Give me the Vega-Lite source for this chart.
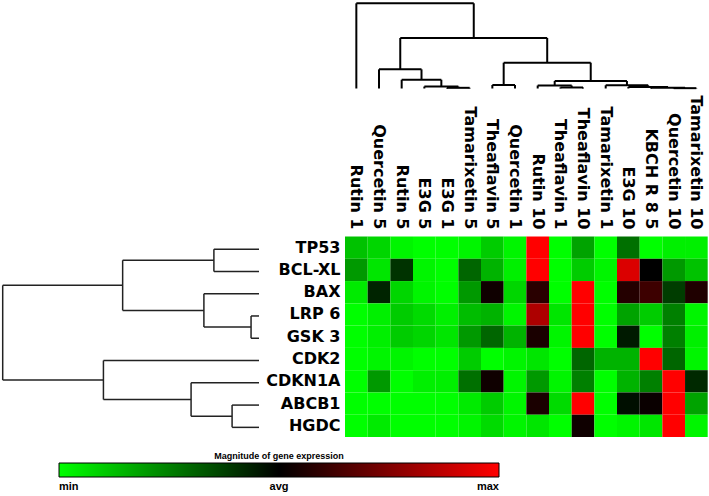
{
  "$schema": "https://vega.github.io/schema/vega-lite/v6.json",
  "width": 709,
  "height": 496,
  "padding": 0,
  "autosize": "none",
  "background": "white",
  "config": {"view": {"stroke": null}},
  "datasets": {
    "heat": [
      {"gene":"TP53","sample":"Rutin 1","value":0.12},{"gene":"TP53","sample":"Quercetin 5","value":0.08},{"gene":"TP53","sample":"Rutin 5","value":0.02},{"gene":"TP53","sample":"E3G 5","value":0},{"gene":"TP53","sample":"E3G 1","value":0},{"gene":"TP53","sample":"Tamarixetin 5","value":0.02},{"gene":"TP53","sample":"Theaflavin 5","value":0.1},{"gene":"TP53","sample":"Quercetin 1","value":0.02},{"gene":"TP53","sample":"Rutin 10","value":1.0},{"gene":"TP53","sample":"Theaflavin 1","value":0},{"gene":"TP53","sample":"Theaflavin 10","value":0.18},{"gene":"TP53","sample":"Tamarixetin 1","value":0},{"gene":"TP53","sample":"E3G 10","value":0.28},{"gene":"TP53","sample":"KBCH R 8 5","value":0},{"gene":"TP53","sample":"Quercetin 10","value":0.03},{"gene":"TP53","sample":"Tamarixetin 10","value":0.03},
      {"gene":"BCL-XL","sample":"Rutin 1","value":0.2},{"gene":"BCL-XL","sample":"Quercetin 5","value":0.05},{"gene":"BCL-XL","sample":"Rutin 5","value":0.4},{"gene":"BCL-XL","sample":"E3G 5","value":0.02},{"gene":"BCL-XL","sample":"E3G 1","value":0},{"gene":"BCL-XL","sample":"Tamarixetin 5","value":0.3},{"gene":"BCL-XL","sample":"Theaflavin 5","value":0.15},{"gene":"BCL-XL","sample":"Quercetin 1","value":0.03},{"gene":"BCL-XL","sample":"Rutin 10","value":1.0},{"gene":"BCL-XL","sample":"Theaflavin 1","value":0},{"gene":"BCL-XL","sample":"Theaflavin 10","value":0.1},{"gene":"BCL-XL","sample":"Tamarixetin 1","value":0.02},{"gene":"BCL-XL","sample":"E3G 10","value":0.93},{"gene":"BCL-XL","sample":"KBCH R 8 5","value":0.5},{"gene":"BCL-XL","sample":"Quercetin 10","value":0.2},{"gene":"BCL-XL","sample":"Tamarixetin 10","value":0.12},
      {"gene":"BAX","sample":"Rutin 1","value":0.04},{"gene":"BAX","sample":"Quercetin 5","value":0.43},{"gene":"BAX","sample":"Rutin 5","value":0.08},{"gene":"BAX","sample":"E3G 5","value":0.02},{"gene":"BAX","sample":"E3G 1","value":0},{"gene":"BAX","sample":"Tamarixetin 5","value":0.2},{"gene":"BAX","sample":"Theaflavin 5","value":0.53},{"gene":"BAX","sample":"Quercetin 1","value":0.08},{"gene":"BAX","sample":"Rutin 10","value":0.58},{"gene":"BAX","sample":"Theaflavin 1","value":0},{"gene":"BAX","sample":"Theaflavin 10","value":1.0},{"gene":"BAX","sample":"Tamarixetin 1","value":0},{"gene":"BAX","sample":"E3G 10","value":0.57},{"gene":"BAX","sample":"KBCH R 8 5","value":0.62},{"gene":"BAX","sample":"Quercetin 10","value":0.38},{"gene":"BAX","sample":"Tamarixetin 10","value":0.56},
      {"gene":"LRP 6","sample":"Rutin 1","value":0},{"gene":"LRP 6","sample":"Quercetin 5","value":0.03},{"gene":"LRP 6","sample":"Rutin 5","value":0.1},{"gene":"LRP 6","sample":"E3G 5","value":0.07},{"gene":"LRP 6","sample":"E3G 1","value":0.03},{"gene":"LRP 6","sample":"Tamarixetin 5","value":0.13},{"gene":"LRP 6","sample":"Theaflavin 5","value":0.15},{"gene":"LRP 6","sample":"Quercetin 1","value":0.02},{"gene":"LRP 6","sample":"Rutin 10","value":0.84},{"gene":"LRP 6","sample":"Theaflavin 1","value":0.05},{"gene":"LRP 6","sample":"Theaflavin 10","value":1.0},{"gene":"LRP 6","sample":"Tamarixetin 1","value":0},{"gene":"LRP 6","sample":"E3G 10","value":0.18},{"gene":"LRP 6","sample":"KBCH R 8 5","value":0.1},{"gene":"LRP 6","sample":"Quercetin 10","value":0.25},{"gene":"LRP 6","sample":"Tamarixetin 10","value":0.02},
      {"gene":"GSK 3","sample":"Rutin 1","value":0},{"gene":"GSK 3","sample":"Quercetin 5","value":0.03},{"gene":"GSK 3","sample":"Rutin 5","value":0.1},{"gene":"GSK 3","sample":"E3G 5","value":0.08},{"gene":"GSK 3","sample":"E3G 1","value":0.05},{"gene":"GSK 3","sample":"Tamarixetin 5","value":0.2},{"gene":"GSK 3","sample":"Theaflavin 5","value":0.3},{"gene":"GSK 3","sample":"Quercetin 1","value":0.15},{"gene":"GSK 3","sample":"Rutin 10","value":0.55},{"gene":"GSK 3","sample":"Theaflavin 1","value":0.02},{"gene":"GSK 3","sample":"Theaflavin 10","value":1.0},{"gene":"GSK 3","sample":"Tamarixetin 1","value":0},{"gene":"GSK 3","sample":"E3G 10","value":0.45},{"gene":"GSK 3","sample":"KBCH R 8 5","value":0},{"gene":"GSK 3","sample":"Quercetin 10","value":0.25},{"gene":"GSK 3","sample":"Tamarixetin 10","value":0.03},
      {"gene":"CDK2","sample":"Rutin 1","value":0},{"gene":"CDK2","sample":"Quercetin 5","value":0.02},{"gene":"CDK2","sample":"Rutin 5","value":0.02},{"gene":"CDK2","sample":"E3G 5","value":0},{"gene":"CDK2","sample":"E3G 1","value":0},{"gene":"CDK2","sample":"Tamarixetin 5","value":0.1},{"gene":"CDK2","sample":"Theaflavin 5","value":0},{"gene":"CDK2","sample":"Quercetin 1","value":0.02},{"gene":"CDK2","sample":"Rutin 10","value":0.05},{"gene":"CDK2","sample":"Theaflavin 1","value":0},{"gene":"CDK2","sample":"Theaflavin 10","value":0.3},{"gene":"CDK2","sample":"Tamarixetin 1","value":0.15},{"gene":"CDK2","sample":"E3G 10","value":0.15},{"gene":"CDK2","sample":"KBCH R 8 5","value":1.0},{"gene":"CDK2","sample":"Quercetin 10","value":0.3},{"gene":"CDK2","sample":"Tamarixetin 10","value":0.02},
      {"gene":"CDKN1A","sample":"Rutin 1","value":0},{"gene":"CDKN1A","sample":"Quercetin 5","value":0.2},{"gene":"CDKN1A","sample":"Rutin 5","value":0},{"gene":"CDKN1A","sample":"E3G 5","value":0.03},{"gene":"CDKN1A","sample":"E3G 1","value":0.03},{"gene":"CDKN1A","sample":"Tamarixetin 5","value":0.28},{"gene":"CDKN1A","sample":"Theaflavin 5","value":0.53},{"gene":"CDKN1A","sample":"Quercetin 1","value":0.02},{"gene":"CDKN1A","sample":"Rutin 10","value":0.2},{"gene":"CDKN1A","sample":"Theaflavin 1","value":0.02},{"gene":"CDKN1A","sample":"Theaflavin 10","value":0.25},{"gene":"CDKN1A","sample":"Tamarixetin 1","value":0},{"gene":"CDKN1A","sample":"E3G 10","value":0.15},{"gene":"CDKN1A","sample":"KBCH R 8 5","value":0.25},{"gene":"CDKN1A","sample":"Quercetin 10","value":1.0},{"gene":"CDKN1A","sample":"Tamarixetin 10","value":0.42},
      {"gene":"ABCB1","sample":"Rutin 1","value":0},{"gene":"ABCB1","sample":"Quercetin 5","value":0},{"gene":"ABCB1","sample":"Rutin 5","value":0},{"gene":"ABCB1","sample":"E3G 5","value":0},{"gene":"ABCB1","sample":"E3G 1","value":0},{"gene":"ABCB1","sample":"Tamarixetin 5","value":0.04},{"gene":"ABCB1","sample":"Theaflavin 5","value":0.1},{"gene":"ABCB1","sample":"Quercetin 1","value":0.02},{"gene":"ABCB1","sample":"Rutin 10","value":0.55},{"gene":"ABCB1","sample":"Theaflavin 1","value":0.07},{"gene":"ABCB1","sample":"Theaflavin 10","value":1.0},{"gene":"ABCB1","sample":"Tamarixetin 1","value":0},{"gene":"ABCB1","sample":"E3G 10","value":0.47},{"gene":"ABCB1","sample":"KBCH R 8 5","value":0.52},{"gene":"ABCB1","sample":"Quercetin 10","value":1.0},{"gene":"ABCB1","sample":"Tamarixetin 10","value":0.18},
      {"gene":"HGDC","sample":"Rutin 1","value":0},{"gene":"HGDC","sample":"Quercetin 5","value":0.04},{"gene":"HGDC","sample":"Rutin 5","value":0},{"gene":"HGDC","sample":"E3G 5","value":0},{"gene":"HGDC","sample":"E3G 1","value":0},{"gene":"HGDC","sample":"Tamarixetin 5","value":0.02},{"gene":"HGDC","sample":"Theaflavin 5","value":0.07},{"gene":"HGDC","sample":"Quercetin 1","value":0.02},{"gene":"HGDC","sample":"Rutin 10","value":0.05},{"gene":"HGDC","sample":"Theaflavin 1","value":0},{"gene":"HGDC","sample":"Theaflavin 10","value":0.53},{"gene":"HGDC","sample":"Tamarixetin 1","value":0},{"gene":"HGDC","sample":"E3G 10","value":0.02},{"gene":"HGDC","sample":"KBCH R 8 5","value":0.05},{"gene":"HGDC","sample":"Quercetin 10","value":1.0},{"gene":"HGDC","sample":"Tamarixetin 10","value":0.02}
    ],
    "colTree": [
      {"p1":0.5,"p2":5.68,"d1":1.0,"d2":1.0},{"p1":0.5,"p2":0.5,"d1":0,"d2":1.0},{"p1":5.68,"p2":5.68,"d1":0.593,"d2":1.0},
      {"p1":2.4375,"p2":8.92,"d1":0.593,"d2":0.593},{"p1":2.4375,"p2":2.4375,"d1":0.225,"d2":0.593},{"p1":8.92,"p2":8.92,"d1":0.303,"d2":0.593},
      {"p1":1.5,"p2":3.375,"d1":0.225,"d2":0.225},{"p1":1.5,"p2":1.5,"d1":0,"d2":0.225},{"p1":3.375,"p2":3.375,"d1":0.103,"d2":0.225},
      {"p1":2.5,"p2":4.25,"d1":0.103,"d2":0.103},{"p1":2.5,"p2":2.5,"d1":0,"d2":0.103},{"p1":4.25,"p2":4.25,"d1":0.023,"d2":0.103},
      {"p1":3.5,"p2":5.0,"d1":0.023,"d2":0.023},{"p1":3.5,"p2":3.5,"d1":0,"d2":0.023},{"p1":5.0,"p2":5.0,"d1":0.008,"d2":0.023},
      {"p1":4.5,"p2":5.5,"d1":0.008,"d2":0.008},{"p1":4.5,"p2":4.5,"d1":0,"d2":0.008},{"p1":5.5,"p2":5.5,"d1":0,"d2":0.008},
      {"p1":7.0,"p2":10.84,"d1":0.303,"d2":0.303},{"p1":7.0,"p2":7.0,"d1":0.041,"d2":0.303},{"p1":10.84,"p2":10.84,"d1":0.088,"d2":0.303},
      {"p1":6.5,"p2":7.5,"d1":0.041,"d2":0.041},{"p1":6.5,"p2":6.5,"d1":0,"d2":0.041},{"p1":7.5,"p2":7.5,"d1":0,"d2":0.041},
      {"p1":9.25,"p2":12.4375,"d1":0.088,"d2":0.088},{"p1":9.25,"p2":9.25,"d1":0.035,"d2":0.088},{"p1":12.4375,"p2":12.4375,"d1":0.038,"d2":0.088},
      {"p1":8.5,"p2":10.0,"d1":0.035,"d2":0.035},{"p1":8.5,"p2":8.5,"d1":0,"d2":0.035},{"p1":10.0,"p2":10.0,"d1":0.012,"d2":0.035},
      {"p1":9.5,"p2":10.5,"d1":0.012,"d2":0.012},{"p1":9.5,"p2":9.5,"d1":0,"d2":0.012},{"p1":10.5,"p2":10.5,"d1":0,"d2":0.012},
      {"p1":11.5,"p2":13.375,"d1":0.038,"d2":0.038},{"p1":11.5,"p2":11.5,"d1":0,"d2":0.038},{"p1":13.375,"p2":13.375,"d1":0.018,"d2":0.038},
      {"p1":12.5,"p2":14.25,"d1":0.018,"d2":0.018},{"p1":12.5,"p2":12.5,"d1":0,"d2":0.018},{"p1":14.25,"p2":14.25,"d1":0.008,"d2":0.018},
      {"p1":13.5,"p2":15.0,"d1":0.008,"d2":0.008},{"p1":13.5,"p2":13.5,"d1":0,"d2":0.008},{"p1":15.0,"p2":15.0,"d1":0.004,"d2":0.008},
      {"p1":14.5,"p2":15.5,"d1":0.004,"d2":0.004},{"p1":14.5,"p2":14.5,"d1":0,"d2":0.004},{"p1":15.5,"p2":15.5,"d1":0,"d2":0.004}
    ],
    "rowTree": [
      {"p1":2.125,"p2":6.375,"d1":1.0,"d2":1.0},{"p1":2.125,"p2":2.125,"d1":0.532,"d2":1.0},{"p1":6.375,"p2":6.375,"d1":0.607,"d2":1.0},
      {"p1":1.0,"p2":3.25,"d1":0.532,"d2":0.532},{"p1":1.0,"p2":1.0,"d1":0.176,"d2":0.532},{"p1":3.25,"p2":3.25,"d1":0.215,"d2":0.532},
      {"p1":0.5,"p2":1.5,"d1":0.176,"d2":0.176},{"p1":0.5,"p2":0.5,"d1":0,"d2":0.176},{"p1":1.5,"p2":1.5,"d1":0,"d2":0.176},
      {"p1":2.5,"p2":4.0,"d1":0.215,"d2":0.215},{"p1":2.5,"p2":2.5,"d1":0,"d2":0.215},{"p1":4.0,"p2":4.0,"d1":0.031,"d2":0.215},
      {"p1":3.5,"p2":4.5,"d1":0.031,"d2":0.031},{"p1":3.5,"p2":3.5,"d1":0,"d2":0.031},{"p1":4.5,"p2":4.5,"d1":0,"d2":0.031},
      {"p1":5.5,"p2":7.25,"d1":0.607,"d2":0.607},{"p1":5.5,"p2":5.5,"d1":0,"d2":0.607},{"p1":7.25,"p2":7.25,"d1":0.265,"d2":0.607},
      {"p1":6.5,"p2":8.0,"d1":0.265,"d2":0.265},{"p1":6.5,"p2":6.5,"d1":0,"d2":0.265},{"p1":8.0,"p2":8.0,"d1":0.105,"d2":0.265},
      {"p1":7.5,"p2":8.5,"d1":0.105,"d2":0.105},{"p1":7.5,"p2":7.5,"d1":0,"d2":0.105},{"p1":8.5,"p2":8.5,"d1":0,"d2":0.105}
    ]
  },
  "layer": [
    {
      "data": {"name": "heat"},
      "mark": {"type": "rect", "strokeWidth": 0},
      "encoding": {
        "x": {"field": "sample", "type": "nominal", "sort": null,
              "scale": {"range": [345, 707.7], "paddingInner": 0, "paddingOuter": 0},
              "axis": {"orient": "top", "title": null, "domain": false, "ticks": false, "tickSize": 0,
                       "offset": -229, "labelPadding": 0, "labelAngle": 90, "labelAlign": "right", "labelBaseline": "middle",
                       "labelFont": "DejaVu Sans", "labelFontWeight": "bold", "labelFontSize": 16, "labelColor": "#000000", "labelOverlap": false}},
        "y": {"field": "gene", "type": "nominal", "sort": null,
              "scale": {"range": [236.5, 437], "paddingInner": 0, "paddingOuter": 0},
              "axis": {"orient": "left", "title": null, "domain": false, "ticks": false, "tickSize": 0,
                       "offset": -340, "labelPadding": 0,
                       "labelFont": "DejaVu Sans", "labelFontWeight": "bold", "labelFontSize": 16, "labelColor": "#000000", "labelOverlap": false}},
        "color": {"field": "value", "type": "quantitative",
                  "scale": {"domain": [0, 0.5, 1], "range": ["#00ff00", "#000000", "#ff0000"], "interpolate": "rgb"},
                  "legend": {"orient": "none", "legendX": 59, "legendY": 452, "direction": "horizontal",
                             "title": "Magnitude of gene expression", "titleAnchor": "middle", "titleFont": "Liberation Sans", "titleFontSize": 9, "titleFontWeight": "bold", "titleColor": "#000000", "titlePadding": 2,
                             "gradientLength": 440, "gradientThickness": 14, "gradientStrokeColor": "#000000", "gradientStrokeWidth": 1,
                             "values": [0, 0.5, 1], "labelExpr": "datum.value == 0 ? 'min' : datum.value == 1 ? 'max' : 'avg'",
                             "labelAlign": "center", "labelFont": "Liberation Sans", "labelFontSize": 11, "labelFontWeight": "bold", "labelColor": "#000000", "labelOffset": 4, "labelOverlap": false, "padding": 0}}
      }
    },
    {
      "data": {"name": "colTree"},
      "mark": {"type": "rule", "color": "#000000", "strokeWidth": 2},
      "encoding": {
        "x": {"field": "p1", "type": "quantitative", "scale": {"domain": [0, 16], "range": [345, 707.7], "nice": false, "zero": false}, "axis": null},
        "x2": {"field": "p2"},
        "y": {"field": "d1", "type": "quantitative", "scale": {"domain": [0, 1], "range": [88.5, 3.3], "nice": false}, "axis": null},
        "y2": {"field": "d2"}
      }
    },
    {
      "data": {"name": "rowTree"},
      "mark": {"type": "rule", "color": "#222222", "strokeWidth": 1.5},
      "encoding": {
        "x": {"field": "d1", "type": "quantitative", "scale": {"domain": [0, 1], "range": [259, 2.7], "nice": false}, "axis": null},
        "x2": {"field": "d2"},
        "y": {"field": "p1", "type": "quantitative", "scale": {"domain": [0, 9], "range": [238, 438.5], "nice": false, "zero": false}, "axis": null},
        "y2": {"field": "p2"}
      }
    }
  ],
  "resolve": {"scale": {"x": "independent", "y": "independent", "color": "independent"}}
}
